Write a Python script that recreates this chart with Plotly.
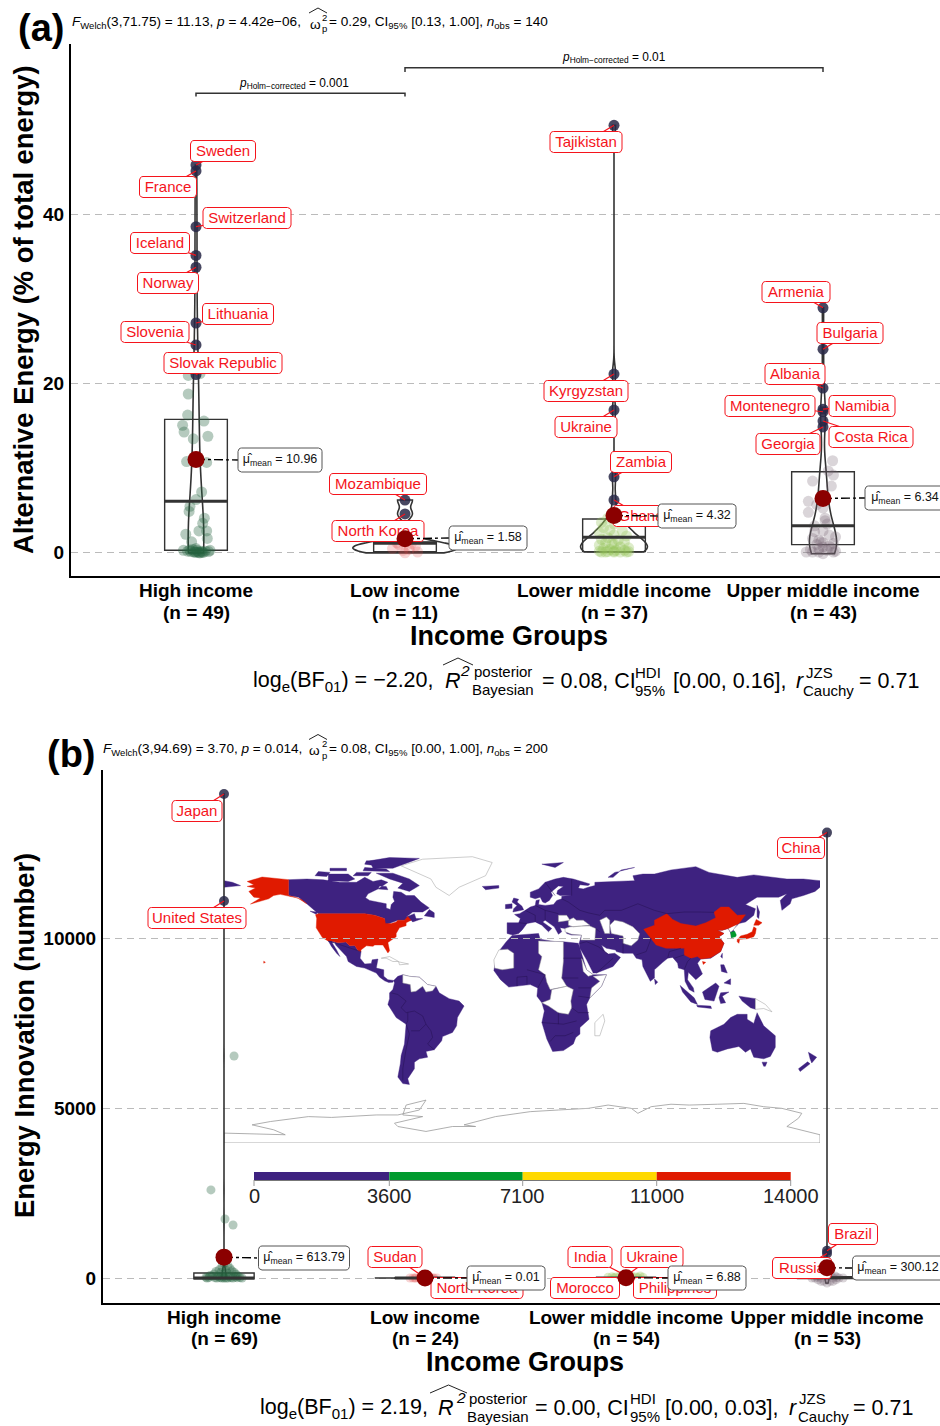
import math
import plotly.graph_objects as go

W, H = 940, 1426
FONT = "Liberation Sans"
DARK = "#333333"
NAVY = "rgba(40,40,70,0.85)"
MEAN_RED = "#8b0000"
LABEL_RED = "#f5141c"
PURPLE, GREEN, YELLOW, RED = "#3e2280", "#009a2e", "#ffd900", "#e01a00"

CATEGORIES = ["High income", "Low income", "Lower middle income", "Upper middle income"]
POINT_COLORS = ["rgba(38,100,65,0.34)", "rgba(225,70,70,0.22)", "rgba(150,195,90,0.32)", "rgba(120,100,115,0.27)"]

# ---------- panel (a) data
A_COUNTS = ["(n = 49)", "(n = 11)", "(n = 37)", "(n = 43)"]
A_Q1 = [0.2, 0.05, 0.04, 0.87]
A_MEDIAN = [6.0, 1.05, 1.75, 3.1]
A_Q3 = [15.7, 1.2, 3.9, 9.5]
A_MEANS = [10.96, 1.58, 4.32, 6.34]
A_MEAN_TEXT = ["10.96", "1.58", "4.32", "6.34"]

A_HIGH_OUT = [("Sweden", 45.8), ("France", 45.1), ("Switzerland", 38.5), ("Iceland", 35.1), ("Norway", 33.7),
              ("Lithuania", 27.1), ("Slovenia", 24.5), ("Slovak Republic", 21.0)]
A_LOW_OUT = [("Mozambique", 6.15), ("North Korea", 4.5)]
A_LM_OUT = [("Tajikistan", 50.5), ("Kyrgyzstan", 21.06), ("Ukraine", 16.8), ("Zambia", 8.9), ("Ghana", 6.15)]
A_UM_OUT = [("Armenia", 28.9), ("Bulgaria", 24.0), ("Albania", 19.4), ("Namibia", 16.9), ("Montenegro", 16.6),
            ("Costa Rica", 15.5), ("Georgia", 14.8)]

A_HIGH_X = [0.963, 1.019, 0.963, 0.96, 0.936, 1.038, 0.943, 1.057, 0.987, 0.955, 1.051, 1.027, 1.0, 0.971, 0.967, 1.04,
            1.032, 1.014, 1.051, 0.951, 1.054, 0.979, 0.94, 1.067, 0.96, 0.975, 0.99, 1.0, 1.01, 1.02, 1.03, 1.045, 1.06,
            0.985, 1.005, 1.015, 1.025, 0.995, 1.0, 1.035, 0.97]
A_HIGH_Y = [20.9, 21.1, 18.7, 16.2, 15.0, 15.5, 14.2, 13.7, 13.4, 10.7, 10.6, 7.1, 6.2, 5.4, 4.8, 4.0,
            3.4, 2.5, 2.5, 2.1, 1.6, 1.2, 0.2, 0.2, 0.1, 0.05, 0.0, 0.0, 0.0, -0.1, 0.0, 0.1, 0.05,
            0.3, 0.2, -0.1, 0.1, 0.0, 0.4, -0.05, 0.25]
A_LOW_X = [1.94, 2.0, 2.06, 1.97, 2.03, 1.99, 2.02, 1.96, 2.05]
A_LOW_Y = [0.4, -0.1, 0.0, 0.9, 1.0, 0.2, 0.3, 1.1, 0.7]
A_LM_X = [2.97, 2.94, 3.0, 2.95, 2.98, 3.04, 2.93, 3.0, 3.06, 2.97, 2.94, 3.02, 3.05, 2.96, 3.0, 2.93, 3.03, 3.07, 2.95,
          2.98, 3.01, 3.05, 2.93, 3.0, 2.97, 3.07, 2.96, 3.03, 3.0, 3.06, 2.94, 2.99]
A_LM_Y = [4.0, 3.5, 3.3, 2.9, 2.6, 2.5, 2.3, 2.0, 1.9, 1.7, 1.5, 1.4, 1.2, 1.1, 0.9, 0.8, 0.6, 0.5, 0.4, 0.3, 0.2, 0.2,
          0.1, 0.1, 0.05, 0.05, 0.0, 0.0, 0.0, 0.0, 0.0, 1.0]
A_UM_X = [4.046, 4.025, 4.05, 3.95, 4.04, 4.0, 3.93, 4.0, 4.01, 3.96, 4.0, 4.06, 3.98, 3.95, 4.0, 4.05, 3.97, 4.03, 3.94,
          4.02, 3.99, 4.04, 3.96, 4.06, 3.92, 4.01, 3.98, 4.03, 3.95, 4.0, 4.05, 3.93, 3.97, 4.02, 4.0, 3.98]
A_UM_Y = [10.8, 9.6, 9.1, 8.4, 7.8, 6.5, 4.7, 5.2, 3.7, 2.4, 2.5, 1.8, 1.4, 0.0, -0.2, 0.0, 0.9, 0.7, 0.3, 0.2, 1.2, 0.5,
          3.1, 0.1, 0.0, 4.0, 0.4, 2.0, 1.6, 0.6, 1.0, 6.0, 5.6, 3.3, 1.1, 0.0]

# ---------- panel (b) data
B_COUNTS = ["(n = 69)", "(n = 24)", "(n = 54)", "(n = 53)"]
B_Q1 = [-20, -5, -5, -5]
B_MEDIAN = [0, 0, 1, 10]
B_Q3 = [147, 5, 5, 40]
B_MEANS = [613.79, 0.01, 6.88, 300.12]
B_MEAN_TEXT = ["613.79", "0.01", "6.88", "300.12"]

B_HIGH_OUT = [("Japan", 14235), ("United States", 11088)]
B_LOW_OUT = [("Sudan", 0.1), ("North Korea", 0.05)]
B_LM_OUT = [("India", 70), ("Ukraine", 60), ("Morocco", 30), ("Philippines", 20)]
B_UM_OUT = [("China", 13100), ("Brazil", 800), ("Russia", 720)]

B_HIGH_X = [1.05, 0.935, 1.005, 1.045, 1.0, 1.02, 0.99, 1.03, 0.975, 1.01, 1.04, 0.96, 1.05, 0.985, 1.015, 1.0, 0.95,
            1.06, 0.93, 1.07, 0.94, 0.97, 0.995, 1.025, 1.055, 0.91, 1.08, 0.925, 0.955, 0.98, 1.035, 1.065, 1.09,
            0.915, 1.0, 0.965, 1.02, 1.045, 0.99, 1.01]
B_HIGH_Y = [6530, 2590, 1735, 1560, 430, 360, 330, 280, 240, 230, 210, 190, 170, 170, 150, 130, 120, 110, 70, 60, 50, 50,
            40, 40, 30, 20, 10, 10, 5, 5, 5, 5, 0, 0, 0, 0, 0, 0, 0, 0]
B_LOW_X = [1.925, 1.94, 1.955, 1.97, 1.985, 2.0, 2.015, 2.03, 2.045, 2.06, 1.95, 1.98, 2.01, 2.04]
B_LOW_Y = [0, 0, 0, 0, 0, 0, 0, 0, 0, 0, 0, 0, 0, 0]
B_LM_X = [2.91, 2.93, 2.95, 2.97, 3.0, 3.03, 3.05, 3.07, 3.085, 2.94, 2.98, 3.02, 3.06]
B_LM_Y = [20, 40, 30, 60, 80, 50, 30, 60, 20, 10, 5, 5, 10]
B_UM_X = [3.925, 3.94, 3.955, 3.97, 3.985, 4.0, 4.015, 4.03, 4.045, 4.06, 4.08, 3.96, 3.98, 4.0, 4.02, 4.04, 3.99, 4.01,
          3.95, 4.05, 3.97, 4.03]
B_UM_Y = [0, 0, -50, -100, -100, -150, -100, -100, -50, 0, 0, 60, 100, 150, 100, 60, 50, 50, 30, 20, 0, 0]

# ---------- label placement, in page pixels: centre x, centre y, box width
A_LABEL_BOX = {
    "Sweden": (223, 151, 65), "France": (168, 187, 57), "Switzerland": (247, 218, 88), "Iceland": (160, 243, 59),
    "Norway": (168, 283, 61), "Lithuania": (238, 314, 71), "Slovenia": (155, 332, 68), "Slovak Republic": (223, 363, 118),
    "Mozambique": (378, 484, 97), "North Korea": (378, 531, 92), "Tajikistan": (586, 142, 72),
    "Kyrgyzstan": (586, 391, 84), "Ukraine": (586, 427, 62), "Zambia": (641, 462, 61), "Ghana": (641, 516, 56),
    "Armenia": (796, 292, 68), "Bulgaria": (850, 333, 66), "Albania": (795, 374, 60), "Montenegro": (770, 406, 90),
    "Namibia": (862, 406, 66), "Costa Rica": (871, 437, 84), "Georgia": (788, 444, 64)}
B_LABEL_BOX = {
    "Japan": (197, 811, 50), "United States": (197, 918, 98), "Sudan": (395, 1257, 54), "North Korea": (477, 1288, 92),
    "India": (590, 1257, 44), "Ukraine": (652, 1257, 62), "Morocco": (585, 1288, 69), "Philippines": (675, 1288, 83),
    "China": (801, 848, 47), "Brazil": (853, 1234, 49), "Russia": (802, 1268, 59)}
A_MEAN_BOX = [(280, 460, 84), (488, 538, 78), (697, 516, 78), (905, 498, 80)]
B_MEAN_BOX = [(304, 1258, 91), (506, 1278, 78), (707, 1278, 78), (898, 1268, 91)]

# ---------- world map (lon, lat), coarse country and continent outlines
PURPLE_LAND = [
    # Canada
    [(-141,69.6),(-130,70),(-120,69.5),(-110,68),(-100,68),(-95,71),(-90,68.5),(-85,69.5),(-81,68),(-87,64),(-93,61),(-94.5,58.7),(-92,57),(-85,55.3),(-82,55),(-82,52.5),(-79.5,51.5),(-79,54.5),(-77,56.5),(-78,59),(-77.5,62.5),(-73,62),(-70,60),(-65,60),(-61,56),(-56,52.5),(-60,50),(-66,50),(-70,47),(-65,49),(-64,46),(-60,46),(-66,44),(-67,45),(-71,45),(-75,45),(-79,43.5),(-83,42),(-83,46),(-89,48),(-95,49),(-123,49),(-130,55),(-135,59),(-141,60)],
    [(-62,66),(-68,62.5),(-75,64.5),(-72,67.5),(-80,70),(-88,73.5),(-78,73.5),(-68,70)],
    [(-117,69),(-105,68.5),(-101,70),(-105,73),(-117,73)],
    [(-125,72),(-118,71.5),(-116,74),(-123,74.5)],
    [(-90,76.5),(-78,76.5),(-62,82.5),(-80,83),(-92,81)],
    [(-96,75),(-80,74.5),(-82,76),(-95,77)],
    [(-116,75),(-106,75),(-106,76.5),(-116,76.5)],
    [(-102,72),(-93,72),(-91,74),(-100,74)],
    [(-95,79),(-88,78),(-87,81),(-94,81)],
    [(-87,64),(-81,63.5),(-82,65.5),(-86,65.8)],
    [(-59,47.7),(-53,46.7),(-53,49.5),(-56,51.5)],
    [(-128,50.5),(-124,48.5),(-124,50)],
    # Mexico and Central America
    [(-117,32.5),(-115,32.5),(-111,31.3),(-106.5,31.8),(-104,29.5),(-101,29.7),(-99,26.5),(-97.2,26),(-97.8,22),(-95,18.5),(-91,18.8),(-90.5,21),(-87,21.5),(-88,16),(-83.5,15),(-83.5,11),(-81,9),(-77.5,8.5),(-78,7.5),(-80.5,7.3),(-83,8.3),(-86,10.5),(-88,13),(-92,14.5),(-95,16),(-100,17),(-105,20),(-106,23),(-109,26),(-112.5,30),(-113,31.5),(-114.8,31.5),(-112,27),(-110,23),(-112,25),(-115,29)],
    # South America
    [(-77.5,8.5),(-75,11),(-72,12),(-68,11),(-62,10.5),(-57,6),(-52,5),(-50,1),(-44,-2.5),(-38,-4),(-35,-7),(-39,-14),(-39.5,-19),(-42,-23),(-48,-25.5),(-48.5,-28),(-53,-33.5),(-58,-34.5),(-57,-38),(-62,-39),(-65,-41),(-65,-45),(-69,-51),(-68,-54.5),(-72,-54),(-75,-50),(-73.5,-42),(-73,-37),(-71,-30),(-70,-18),(-76,-14),(-81,-6),(-80,-2.5),(-80,1),(-78,3),(-77,7)],
    # Africa
    [(-6,35.8),(10,37),(11,33.5),(20,32),(25,32),(34,31),(35,28),(37,21),(39,15),(43,12),(51,12),(48,5),(41,-2),(39,-6),(40.5,-15),(35,-20),(35,-24),(32.5,-26),(31,-30),(25,-34),(18.5,-34.5),(15,-27),(12,-17),(13.5,-10),(12,-5),(9,-1),(9.5,4),(5,6),(-4,5),(-8,4.5),(-13,9),(-17,14.5),(-16,20),(-13,27.5),(-9.5,32)],
    # Eurasia
    [(-9,37),(-9,43.5),(-2,43.5),(-1,46),(-4.5,48.5),(-1.5,49),(2,51),(5,53),(8,54),(8.5,57),(10.5,57.5),(10,54.5),(14,54),(19,54.5),(21,57),(24,58),(24,59.5),(30,60),(23,60),(21,61),(21.5,63),(25,65.5),(22,65.8),(17.5,62),(18.5,60),(16.5,57),(14,55.5),(12.5,56),(11,59),(8,58),(5,59),(5,62),(10,64),(14,68),(20,70),(25,71),(31,70),(41,67),(40,66),(35,66.5),(34,64.5),(37,64),(40,65),(44,66),(44,68),(55,68.5),(68,69),(67,72),(73,73),(80,73),(90,75.5),(105,77.5),(113,74),(130,71),(140,72.5),(160,70),(170,70),(180,69),(180,65),(177,62.5),(170,60),(163,58),(162,55),(157,51),(156,57),(160,61),(155,59),(142,59),(135,54.5),(141,52),(140,48),(135,44),(131,43),(130,42),(127.5,39.5),(129,36),(126.5,34.5),(126,37.5),(124.5,40),(121,39),(118,39),(122,37),(119,35),(122,31),(120,26),(114,22),(108,21.5),(106,19),(109,12.5),(105,9),(103,11),(100.5,13.5),(100,9),(103.5,4),(104,1.4),(101,3),(98.5,8),(98,15),(94.5,16),(94,19),(91,22.5),(88,22),(85,19.5),(80,15),(80,10),(77.5,8),(73,17),(72.5,21),(69,22),(67,25),(61,25),(57,26),(56.5,27),(51,28),(48,30),(50,26),(52,24.5),(56,25),(59.5,22.5),(55,17),(45,13),(43,13),(39,21),(35,28),(34.5,31),(36,36),(30,36),(27,37),(26,40),(23,40.5),(24,38),(22,36.5),(19.5,41),(14,45),(12.5,44),(18,40),(16,38),(12,42),(8,44),(3,43),(0,39),(-2,37),(-5.5,36)],
    [(-180,65),(-170,66),(-175,68),(-180,69)],
    [(-5.5,50),(1,51.3),(0,53.5),(-3,56),(-2,57.7),(-5,58.5),(-6,56),(-3,54),(-5,52)],
    [(-10,52),(-6,52.2),(-6,55),(-10,54.5)],
    [(-24,65.5),(-14,66),(-14,64.5),(-22,63.5)],
    [(12,79),(25,80),(20,77)],
    [(52,71),(56,74),(68,77),(60,75.5),(55,71)],
    [(80,9.5),(82,7.5),(80.5,6)],
    [(121,25),(121,22),(120,23)],
    [(95.5,5.5),(104,-2),(106,-6),(102,-4.5),(97,1.5)],
    [(105.5,-6.5),(114,-7),(114.5,-8.5),(106,-7.5)],
    [(109,1.5),(117,7),(119,5),(117.5,0.5),(116,-4),(110.5,-3)],
    [(120,1),(125,1.5),(121,-1),(123,-5),(120,-5.5),(119,-2)],
    [(131,-1),(141,-2.5),(141,-9),(138,-8),(133,-4)],
    [(120,18),(122,18),(124,13),(120.5,14)],
    [(122,7),(126,9.5),(126,6),(122.5,6.5)],
    [(114,-22),(122,-18),(126,-14),(130,-12),(136,-12),(136,-15),(140,-17.5),(142,-11),(146,-19),(153,-25),(153,-32),(150,-37.5),(146,-39),(140,-38),(138,-33),(135,-35),(131,-31.5),(124,-33),(118,-35),(115,-34),(113.5,-26)],
    [(145,-41),(148,-41),(147,-43.5),(146,-43.5)],
    [(173,-35),(178,-38),(175,-41.5),(174,-39)],
    [(172.5,-40.8),(174,-42),(168,-46.7),(167,-45)],
    [(142,54),(143.5,50),(143,46),(142,47),(142,52)],
]
WHITE_LAND = [
    [(-73,78),(-60,82),(-30,83.5),(-18,80),(-22,72),(-38,65),(-44,60),(-52,65),(-55,70),(-68,76)],
    [(-72,12),(-68,11),(-62,10.5),(-57,6),(-52,5),(-54,2.2),(-58,1.5),(-60,5),(-64,2),(-67,1.5),(-67.5,6),(-72,7)],
    [(-85,22),(-80,23),(-74.5,20),(-78,20),(-82,22)],
    [(-74.5,19.8),(-68.5,18.5),(-74,18)],
    [(-17,21),(-14,27),(-8.7,27.5),(-5,25),(-5,16),(-12,15),(-16.5,16)],
    [(10,32.5),(20,32),(25,32),(25,20),(24,10),(27,5),(17,3),(15,7.5),(14,12),(10,15),(12,23),(10,25)],
    [(12,-5),(17,-3),(18,3),(27,5),(31,3),(29.5,-4),(30,-8),(28,-12),(22,-11),(16,-7)],
    [(41,-2),(48,5),(51,12),(43,11),(47,8),(42,4)],
    [(36,22),(39,15),(43,12),(40,11),(37,14)],
    [(49,-12),(50,-16),(47,-25),(44,-25),(44,-17)],
    [(28,42),(28,45),(31,46.5),(33,45),(37,45),(41,42),(36,41.5),(31,41)],
    [(47,45),(51,47),(53,45),(53,37),(50,37),(49,40)],
    [(26,40),(26,38),(30,36.5),(36,36),(35.5,33),(38.5,33),(44,33),(44.5,40),(41,41.5),(36,41.5),(31,41),(29,41)],
    [(53,42),(56,45),(61,44),(67,41),(71,37),(71,36.5),(70,33),(66,29.5),(61,31),(61,35.5),(54,37)],
    [(22,48),(27,48),(29,45),(22,44)],
    [(124.5,40),(128,42),(130,42.5),(127.5,39),(126,37.8)],
    [(141,-2.5),(147,-6),(151,-10.5),(146,-8.5),(141,-9)],
]
RED_LAND = [
    [(-124.7,48.4),(-123,49),(-95,49),(-89,48),(-84.5,46.5),(-83,46),(-82.5,43),(-79,43),(-76,44),(-75,45),(-71,45),(-69,47.3),(-67,45),(-70,43.5),(-70,41.7),(-74,40.5),(-76,37),(-76,35),(-81,31.5),(-80,26.5),(-81,25.2),(-82.8,28),(-84,30),(-89,30),(-90,29.2),(-94,29.5),(-97.3,27),(-97.2,26),(-99,26.5),(-101,29.7),(-104,29.5),(-106.5,31.8),(-111,31.3),(-115,32.5),(-117.2,32.5),(-120.6,34.5),(-122.5,37.5),(-124.3,40.4),(-124,46)],
    [(-141,69.6),(-148,70.4),(-157,71.2),(-166,68.5),(-162,66.5),(-166,65.5),(-161,64.5),(-165,62.5),(-162,59),(-158,58.5),(-164,54.8),(-153,58),(-150,60),(-146,60.7),(-140,59.7),(-135.5,58.5),(-130,55),(-133,57.5),(-137,59),(-141,60)],
    [(-156,20.2),(-155,19.5),(-156,19)],
    [(73.5,39.5),(80,42),(80,45),(87.5,49),(91,45.5),(96,43),(105,41.5),(111,43.5),(117,46.5),(116,49.8),(120,53),(125,53),(130,48),(135,48.3),(131,43),(130,42.5),(124.5,40),(121,39),(118,39),(122,37),(119,35),(122,31),(120,26),(114,22.3),(108,21.5),(106,23),(102,22),(98,24),(98,28),(92,28),(87,28),(81,30),(78.5,33),(75,37)],
    [(109,20),(111,19.5),(109.5,18.2)],
    [(130.8,34),(132,35.5),(136,36.5),(139,38),(140,41),(141.5,40),(141,37),(140,35),(136,33.8),(132,33.5)],
    [(140,42),(141.5,45.5),(145,43.5),(143,42)],
    [(130,33.5),(131.5,33.5),(131,31),(130,32)],
]
GREEN_LAND = [[(126,37.7),(128.5,38.3),(129.5,36),(129,35),(126.5,34.4)]]
BORDER_LINES = [
    [(28,56),(35,51),(40,49.5),(47,48),(50,51),(60,51),(70,55),(80,51),(87.5,49),(98,50),(107,50),(116,49.8)],
    [(-70,-4),(-73,-8),(-70,-11),(-65,-10),(-60,-13),(-58,-18),(-55,-22),(-54,-26),(-57,-30),(-53,-33.5)],
    [(-70,-18),(-68,-24),(-70,-33),(-72,-45),(-72,-52)],
    [(-69,-11),(-69,-16),(-70,-18)], [(-79,1),(-75,0),(-70,-4)], [(-58,-18),(-62,-22),(-67,-22)],
    [(17,-28.5),(20,-25),(26,-25),(31,-23)], [(12,-17),(23,-18),(25,-18),(33,-16)], [(22,-11),(22,-18)],
    [(30,-8),(34,-11),(40.5,-11)], [(34,-1),(41,-2)], [(34,4),(42,4)], [(25,22),(37,22)], [(24,10),(34,10)],
    [(3,15),(14,12)], [(9.5,4),(14,12)], [(-3,10.5),(3,11)], [(3,6),(3,11)], [(-3,5),(-3,10.5)],
    [(35,31),(39,32),(46,29),(52,24.5)], [(45,13),(52,19),(55,22)], [(61,25),(61,35)], [(47,38),(44.5,40)],
    [(78,34),(75,26),(69,24)], [(88,22),(89,26),(96,28)], [(92,22),(98,24)], [(98,15),(100,20),(102,22)],
    [(-2,43.5),(3,43)], [(2,51),(8,48),(8,44)], [(8,54),(14,51),(22,49)], [(14,51),(14,45)], [(24,58),(28,56)],
    [(30,60),(30,70)], [(14,68),(20,60)], [(-117.2,32.5),(-97.2,26)],
]
ANTARCTICA_COAST = [(-180,-84),(-160,-84.5),(-143,-85),(-150,-82),(-159,-80),(-163,-79),(-152,-77),(-140,-75.5),(-129,-74),(-115,-74.5),(-103,-74),(-88,-73),(-75,-73),(-62,-70),(-58,-64),(-70,-67),(-72,-73),(-60,-74),(-77,-78),(-75,-80),(-58,-83),(-42,-80),(-28,-80),(-35,-79),(-16,-74),(5,-71),(22,-70),(40,-69),(52,-67),(66,-69),(70,-72),(78,-68),(90,-66.5),(101,-67),(118,-66.5),(134,-66),(146,-68),(157,-69),(169,-72),(167,-75),(160,-80),(180,-85),(180,-90),(-180,-90)]

COLORBAR_COLORS = [PURPLE, GREEN, YELLOW, RED]
COLORBAR_TICKS = ["0", "3600", "7100", "11000", "14000"]
COLORBAR_PX = [254, 389.3, 522.7, 656.7, 790.7]

# ---------- page geometry
PANEL = {
    "a": dict(xa="x2", ya="y2", xc=196, xu=209, y0=552, yu=169 / 20),
    "b": dict(xa="x3", ya="y3", xc=224, xu=201, y0=1278, yu=170 / 5000),
}
def px2x(p, px): return 1 + (px - p["xc"]) / p["xu"]
def px2y(p, py): return (p["y0"] - py) / p["yu"]
def fx(px): return px / W
def fy(py): return 1 - py / H

fig = go.Figure()

# map first, so that panel (b) is painted over it
def polys(lst):
    xs, ys = [], []
    for poly in lst:
        xs += [c[0] for c in poly] + [poly[0][0], None]
        ys += [c[1] for c in poly] + [poly[0][1], None]
    return xs, ys
for lst, fill, line, lw in [(PURPLE_LAND, PURPLE, PURPLE, 0.4), (WHITE_LAND, "white", "#9a9a9a", 0.5),
                            (RED_LAND, RED, RED, 0.4), (GREEN_LAND, GREEN, GREEN, 0.4)]:
    xs, ys = polys(lst)
    fig.add_trace(go.Scatter(x=xs, y=ys, mode="lines", fill="toself", fillcolor=fill, line=dict(color=line, width=lw),
                             hoverinfo="skip", showlegend=False, xaxis="x", yaxis="y"))
xs, ys = [], []
for l in BORDER_LINES:
    xs += [c[0] for c in l] + [None]
    ys += [c[1] for c in l] + [None]
fig.add_trace(go.Scatter(x=xs, y=ys, mode="lines", line=dict(color="#241050", width=0.5), hoverinfo="skip",
                         showlegend=False, xaxis="x", yaxis="y"))
fig.add_trace(go.Scatter(x=[c[0] for c in ANTARCTICA_COAST] + [ANTARCTICA_COAST[0][0]],
                         y=[c[1] for c in ANTARCTICA_COAST] + [ANTARCTICA_COAST[0][1]], mode="lines",
                         line=dict(color="#9a9a9a", width=0.8), hoverinfo="skip", showlegend=False, xaxis="x", yaxis="y", cliponaxis=False))

def rounded(p, cx, cy, w, h=21, r=3.5):
    pts = []
    for (ax, ay, a0) in [(cx + w/2 - r, cy - h/2 + r, -90), (cx + w/2 - r, cy + h/2 - r, 0),
                         (cx - w/2 + r, cy + h/2 - r, 90), (cx - w/2 + r, cy - h/2 + r, 180)]:
        for k in range(5):
            t = math.radians(a0 + k * 22.5)
            pts.append((ax + r * math.cos(t), ay + r * math.sin(t)))
    pts.append(pts[0])
    return [px2x(p, q[0]) for q in pts] + [None], [px2y(p, q[1]) for q in pts] + [None]

def panel_traces(key, pts, outs, q1, med, q3, means, mean_txt, label_box, mean_box, bws, vwidths, msize, osize):
    p = PANEL[key]
    ref = dict(xaxis=p["xa"], yaxis=p["ya"], showlegend=False, hoverinfo="skip")
    for i in range(4):
        fig.add_trace(go.Scatter(x=pts[i][0], y=pts[i][1], mode="markers", cliponaxis=False,
                                 marker=dict(size=msize, color=POINT_COLORS[i], line=dict(width=0)), **ref))
    for i in range(4):
        vals = pts[i][1] + [o[1] for o in outs[i]]
        fig.add_trace(go.Violin(y=vals, x0=i + 1, width=vwidths[i], scalemode="width", spanmode="hard", bandwidth=bws[i],
                                points=False, fillcolor="rgba(0,0,0,0)", line=dict(color=DARK, width=1.6),
                                box=dict(visible=False), meanline=dict(visible=False), showlegend=False,
                                xaxis=p["xa"], yaxis=p["ya"], hoverinfo="skip"))
        fig.add_trace(go.Box(x=[i + 1], q1=[q1[i]], median=[med[i]], q3=[q3[i]], lowerfence=[q1[i]], upperfence=[q3[i]],
                             width=0.3, whiskerwidth=0, boxpoints=False, fillcolor="rgba(0,0,0,0)",
                             line=dict(color=DARK, width=1.4), **ref))
        fig.add_trace(go.Scatter(x=[i + 0.85, i + 1.15], y=[med[i], med[i]], mode="lines",
                                 line=dict(color=DARK, width=3), **ref))
    # outliers, connectors
    ox, oy, cx, cy = [], [], [], []
    bx, by, tx, ty, tt = [], [], [], [], []
    for i in range(4):
        for name, val in outs[i]:
            ox.append(i + 1); oy.append(val)
            l = label_box[name]
            cx += [i + 1, px2x(p, l[0]), None]
            cy += [val, px2y(p, l[1]), None]
            a, b = rounded(p, l[0], l[1], l[2])
            bx += a; by += b
            tx.append(px2x(p, l[0])); ty.append(px2y(p, l[1] + 1)); tt.append(name)
    fig.add_trace(go.Scatter(x=ox, y=oy, mode="markers", cliponaxis=False,
                             marker=dict(size=osize, color=NAVY, line=dict(width=0)), **ref))
    fig.add_trace(go.Scatter(x=cx, y=cy, mode="lines", cliponaxis=False, line=dict(color=LABEL_RED, width=1.2), **ref))
    fig.add_trace(go.Scatter(x=bx, y=by, mode="lines", fill="toself", fillcolor="white", cliponaxis=False,
                             line=dict(color=LABEL_RED, width=1), **ref))
    fig.add_trace(go.Scatter(x=tx, y=ty, text=tt, mode="text", cliponaxis=False, textposition="middle center",
                             textfont=dict(family=FONT, size=15, color=LABEL_RED), **ref))
    # means
    cx, cy = [], []
    bx, by, tx, ty, tt = [], [], [], [], []
    for i in range(4):
        m = mean_box[i]
        cx += [i + 1, px2x(p, m[0] - m[2] / 2), None]
        cy += [means[i], px2y(p, m[1]), None]
        a, b = rounded(p, m[0], m[1], m[2], h=24)
        bx += a; by += b
        tx.append(px2x(p, m[0])); ty.append(px2y(p, m[1]))
        tt.append("μ\u0302<sub>mean</sub> = " + mean_txt[i])
    fig.add_trace(go.Scatter(x=cx, y=cy, mode="lines", cliponaxis=False, line=dict(color="black", width=1.4, dash="dashdot"), **ref))
    fig.add_trace(go.Scatter(x=list(range(1, 5)), y=means, mode="markers", cliponaxis=False,
                             marker=dict(size=17, color=MEAN_RED, line=dict(width=0)), **ref))
    fig.add_trace(go.Scatter(x=bx, y=by, mode="lines", fill="toself", fillcolor="white", cliponaxis=False,
                             line=dict(color="#555555", width=1), **ref))
    fig.add_trace(go.Scatter(x=tx, y=ty, text=tt, mode="text", cliponaxis=False, textposition="middle center",
                             textfont=dict(family=FONT, size=12.5, color="#111111"), **ref))

panel_traces("a",
             [(A_HIGH_X, A_HIGH_Y), (A_LOW_X, A_LOW_Y), (A_LM_X, A_LM_Y), (A_UM_X, A_UM_Y)],
             [A_HIGH_OUT, A_LOW_OUT, A_LM_OUT, A_UM_OUT], A_Q1, A_MEDIAN, A_Q3, A_MEANS, A_MEAN_TEXT,
             A_LABEL_BOX, A_MEAN_BOX, [5.5, 0.6, 1.0, 2.0], [0.075, 0.5, 0.32, 0.13], 11, 11)
panel_traces("b",
             [(B_HIGH_X, B_HIGH_Y), (B_LOW_X, B_LOW_Y), (B_LM_X, B_LM_Y), (B_UM_X, B_UM_Y)],
             [B_HIGH_OUT, B_LOW_OUT, B_LM_OUT, B_UM_OUT], B_Q1, B_MEDIAN, B_Q3, B_MEANS, B_MEAN_TEXT,
             B_LABEL_BOX, B_MEAN_BOX, [150, 0.05, 10, 100], [0.02, 0.5, 0.05, 0.02], 9, 10)

# pairwise brackets in panel (a)
BRACKETS = [((1, 2), 54.3, 53.9), ((2, 4), 57.3, 56.8)]
for (g1, g2), top, foot in BRACKETS:
    fig.add_trace(go.Scatter(x=[g1, g1, g2, g2], y=[foot, top, top, foot], mode="lines",
                             line=dict(color=DARK, width=1.5), hoverinfo="skip", showlegend=False, xaxis="x2", yaxis="y2"))

# ---------- annotations
ann = []
def txt(px, py, text, size, anchor="center", color="black", angle=0):
    shift = {"left": -2, "right": 2}.get(anchor, 0)
    ann.append(dict(x=fx(px + shift), y=fy(py), xref="paper", yref="paper", text=text, showarrow=False, xanchor=anchor,
                    yanchor="middle", textangle=angle, font=dict(family=FONT, size=size, color=color), align="center"))

txt(41, 28, "<b>(a)</b>", 38)
txt(71, 754, "<b>(b)</b>", 38)
txt(24, 310, "<b>Alternative Energy (% of total energy)</b>", 27.4, angle=-90)
txt(24, 1036, "<b>Energy Innovation (number)</b>", 27.4, angle=-90)
txt(509, 636, "<b>Income Groups</b>", 27)
txt(525, 1362, "<b>Income Groups</b>", 27)
for i, c in enumerate(A_COUNTS):
    txt(196 + 209 * i, 612, f"<b>{c}</b>", 19)
for i, c in enumerate(B_COUNTS):
    txt(224 + 201 * i, 1338, f"<b>{c}</b>", 19)

# subtitles
SUB = 13.6
txt(72, 23, "<i>F</i><sub>Welch</sub>(3,71.75) = 11.13, <i>p</i> = 4.42e\u221206, ", SUB, "left")
txt(310, 24, "ω", SUB, "left")
txt(322, 17, "2", 9.5, "left")
txt(322, 29, "p", 9.5, "left")
txt(329, 23, "= 0.29, CI<sub>95%</sub> [0.13, 1.00], <i>n</i><sub>obs</sub> = 140", SUB, "left")
txt(103, 749.5, "<i>F</i><sub>Welch</sub>(3,94.69) = 3.70, <i>p</i> = 0.014, ", SUB, "left")
txt(309, 750.5, "ω", SUB, "left")
txt(322, 743.5, "2", 9.5, "left")
txt(322, 755.5, "p", 9.5, "left")
txt(329, 749.5, "= 0.08, CI<sub>95%</sub> [0.00, 1.00], <i>n</i><sub>obs</sub> = 200", SUB, "left")

# bracket texts
txt(294, 83, "<i>p</i><sub>Holm\u2212corrected</sub> = 0.001", 11.9)
txt(614, 57, "<i>p</i><sub>Holm\u2212corrected</sub> = 0.01", 11.9)

# bayes captions
def caption(py, lead, x_lead, x_r, x_2, x_post, x_bay, x_eq, x_hdi, x_ci, x_r2, x_jzs, x_cau, x_end, eq, ci, end):
    s = 21.5
    sm = 15
    txt(x_lead, py, lead, s, "left")
    txt(x_r, py, "<i>R</i>", s, "left")
    txt(x_2, py - 11, "<i>2</i>", 15.5, "left")
    txt(x_post, py - 10, "posterior", sm, "left")
    txt(x_bay, py + 8, "Bayesian", sm, "left")
    txt(x_eq, py, eq, s, "left")
    txt(x_hdi, py - 9.5, "HDI", sm, "left")
    txt(x_hdi, py + 8.5, "95%", sm, "left")
    txt(x_ci, py, ci, s, "left")
    txt(x_r2, py, "<i>r</i>", s, "left")
    txt(x_jzs, py - 9.5, "JZS", sm, "left")
    txt(x_cau, py + 8.5, "Cauchy", sm, "left")
    txt(x_end, py, end, s, "left")
caption(681.5, "log<sub>e</sub>(BF<sub>01</sub>) = \u22122.20,", 253, 445, 460, 474, 472, 542, 635, 673, 796, 806, 803, 859,
        "= 0.08, CI", "[0.00, 0.16],", "= 0.71")
caption(1408, "log<sub>e</sub>(BF<sub>01</sub>) = 2.19,", 260, 438, 456, 469, 467, 534.5, 630, 665, 789, 799, 798, 853,
        "= 0.00, CI", "[0.00, 0.03],", "= 0.71")

# colour bar
shapes = []
for i in range(4):
    shapes.append(dict(type="rect", xref="paper", yref="paper", x0=fx(COLORBAR_PX[i]), x1=fx(COLORBAR_PX[i + 1]),
                       y0=fy(1172), y1=fy(1181), fillcolor=COLORBAR_COLORS[i], line=dict(width=0), layer="above"))
shapes.append(dict(type="line", xref="paper", yref="paper", x0=fx(254), x1=fx(790.7), y0=fy(1180.5), y1=fy(1180.5),
                   line=dict(color="#777777", width=1)))
for i, px in enumerate(COLORBAR_PX):
    shapes.append(dict(type="line", xref="paper", yref="paper", x0=fx(px), x1=fx(px), y0=fy(1180), y1=fy(1186),
                       line=dict(color="#999999", width=1)))
    txt(px, 1195.5, COLORBAR_TICKS[i], 20, color="#222222")
# hats
def hat(x0, x1, y0, y1):
    xm = (x0 + x1) / 2
    shapes.append(dict(type="path", xref="paper", yref="paper",
                       path=f"M {fx(x0)} {fy(y0)} L {fx(xm)} {fy(y1)} L {fx(x1)} {fy(y0)}", line=dict(color="#222222", width=1)))
hat(309, 327, 13, 8)
hat(309, 327, 739.5, 734.5)
hat(443, 473, 665, 658)
hat(430, 467, 1393, 1385)

axis_common = dict(showline=True, linecolor="black", linewidth=2, ticks="", zeroline=False, fixedrange=True)
grid = dict(showgrid=True, gridcolor="#bbbbbb", gridwidth=1.4, griddash="7px,5px")
tick_font = dict(family=FONT, size=19, color="black", weight=700)

fig.update_layout(
    width=W, height=H, margin=dict(l=0, r=0, t=0, b=0), paper_bgcolor="white", plot_bgcolor="rgba(0,0,0,0)",
    showlegend=False, boxmode="overlay", violinmode="overlay", annotations=ann, shapes=shapes,
    font=dict(family=FONT),
    xaxis=dict(domain=[fx(224), fx(820)], range=[-180, 180], visible=False, fixedrange=True),
    yaxis=dict(domain=[fy(1143), fy(846)], range=[-90, 90], visible=False, fixedrange=True),
    xaxis2=dict(domain=[fx(71), 1], range=[px2x(PANEL["a"], 71), px2x(PANEL["a"], 940)], anchor="y2", tickvals=[1, 2, 3, 4],
                ticktext=CATEGORIES, tickangle=0, tickfont=tick_font, showgrid=False, ticklabelstandoff=-4, **axis_common),
    yaxis2=dict(domain=[fy(576), fy(44)], range=[px2y(PANEL["a"], 576), px2y(PANEL["a"], 44)], anchor="x2",
                tickvals=[0, 20, 40, 60], ticktext=["0", "20", "40", ""], tickfont=tick_font, ticklabelstandoff=1, **grid, **axis_common),
    xaxis3=dict(domain=[fx(103), 1], range=[px2x(PANEL["b"], 103), px2x(PANEL["b"], 940)], anchor="y3", tickvals=[1, 2, 3, 4],
                ticktext=CATEGORIES, tickangle=0, tickfont=tick_font, showgrid=False, ticklabelstandoff=-4, **axis_common),
    yaxis3=dict(domain=[fy(1303), fy(770)], range=[px2y(PANEL["b"], 1303), px2y(PANEL["b"], 770)], anchor="x3",
                tickvals=[0, 5000, 10000], ticktext=["0", "5000", "10000"], tickfont=tick_font, ticklabelstandoff=1, **grid, **axis_common),
)
fig.write_html("out.html", post_script="document.body.style.margin='0';document.body.style.overflow='hidden';",
               config=dict(displayModeBar=False))
